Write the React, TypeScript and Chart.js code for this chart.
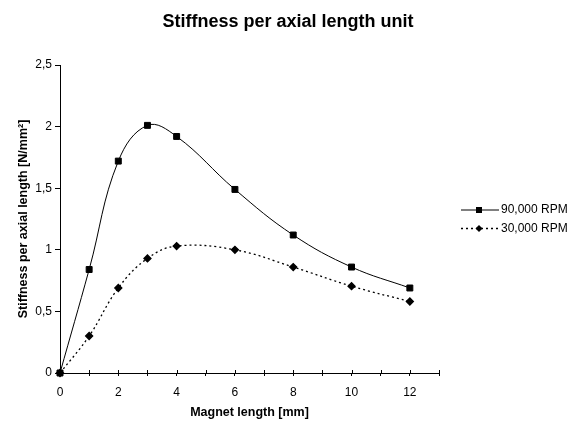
import React, { useEffect, useRef } from "react";
import { Chart, registerables } from "chart.js";

Chart.register(...registerables);

const magnetLength = [0, 1, 2, 3, 4, 6, 8, 10, 12];
const rpm90k = [0, 0.84, 1.72, 2.01, 1.92, 1.49, 1.12, 0.86, 0.69];
const rpm30k = [0, 0.3, 0.69, 0.93, 1.03, 1.0, 0.86, 0.705, 0.58];
const seriesLabels = ["90,000 RPM", "30,000 RPM"];
const titleText = "Stiffness per axial length unit";
const xTitle = "Magnet length [mm]";
const yTitle = "Stiffness per axial length [N/mm²]";

const FONT = "'Liberation Sans', Arial, sans-serif";

const crossTicks = {
  id: "crossTicks",
  afterDraw(chart: any) {
    const ctx = chart.ctx;
    const xs = chart.scales.x;
    const area = chart.chartArea;
    ctx.save();
    ctx.strokeStyle = "#000";
    ctx.lineWidth = 1;
    xs.ticks.forEach((t: any) => {
      const px = Math.round(xs.getPixelForValue(t.value)) + 0.5;
      ctx.beginPath();
      ctx.moveTo(px, area.bottom - 3);
      ctx.lineTo(px, area.bottom);
      ctx.stroke();
    });
    ctx.restore();
  },
};

const chartTitle = {
  id: "chartTitle",
  afterDraw(chart: any) {
    const ctx = chart.ctx;
    ctx.save();
    ctx.fillStyle = "#000";
    ctx.font = `bold 18px ${FONT}`;
    ctx.textAlign = "center";
    ctx.textBaseline = "middle";
    ctx.fillText(titleText, 288, 22);
    ctx.restore();
  },
};

const customLegend = {
  id: "customLegend",
  afterDraw(chart: any) {
    const ctx = chart.ctx;
    const rows = [
      { y: 210, dash: [] as number[], style: "rect", label: seriesLabels[0], w: 1 },
      { y: 228.5, dash: [2, 3], style: "rectRot", label: seriesLabels[1], w: 1.3 },
    ];
    ctx.save();
    rows.forEach((r) => {
      ctx.strokeStyle = "#000";
      ctx.lineWidth = r.w;
      ctx.setLineDash(r.dash);
      ctx.beginPath();
      ctx.moveTo(461, r.y);
      ctx.lineTo(499, r.y);
      ctx.stroke();
      ctx.setLineDash([]);
      ctx.fillStyle = "#000";
      ctx.beginPath();
      if (r.style === "rect") {
        ctx.rect(476, r.y - 3, 6, 6);
      } else {
        ctx.moveTo(479, r.y - 3.5);
        ctx.lineTo(482.5, r.y);
        ctx.lineTo(479, r.y + 3.5);
        ctx.lineTo(475.5, r.y);
        ctx.closePath();
      }
      ctx.fill();
      ctx.font = `12px ${FONT}`;
      ctx.textBaseline = "middle";
      ctx.textAlign = "left";
      ctx.fillText(r.label, 501, r.y);
    });
    ctx.restore();
  },
};

export default function App() {
  const ref = useRef<HTMLCanvasElement>(null);
  useEffect(() => {
    if (!ref.current) return;
    const chart = new Chart(ref.current, {
      type: "scatter",
      data: {
        datasets: [
          {
            label: seriesLabels[0],
            data: magnetLength.map((x, i) => ({ x, y: rpm90k[i] })),
            showLine: true,
            borderColor: "#000",
            backgroundColor: "#000",
            borderWidth: 1,
            pointStyle: "rect",
            pointRadius: 4.2,
            pointHoverRadius: 4.2,
            tension: 0.4,
            clip: false,
          } as any,
          {
            label: seriesLabels[1],
            data: magnetLength.map((x, i) => ({ x, y: rpm30k[i] })),
            showLine: true,
            borderColor: "#000",
            backgroundColor: "#000",
            borderWidth: 1.3,
            borderDash: [2, 3],
            pointStyle: "rectRot",
            pointRadius: 3.5,
            pointHoverRadius: 3.5,
            tension: 0.4,
            clip: false,
          } as any,
        ],
      },
      options: {
        responsive: false,
        animation: false,
        layout: { padding: { left: 0, right: 141, top: 65, bottom: 0 } },
        plugins: {
          legend: { display: false },
          tooltip: { enabled: false },
          title: { display: false },
        },
        scales: {
          x: {
            type: "linear",
            min: 0,
            max: 13,
            afterFit: (s: any) => {
              s.height = 50;
            },
            border: { color: "#000", width: 1 },
            grid: { drawOnChartArea: false, tickLength: 3, color: "#000" },
            ticks: {
              stepSize: 1,
              color: "#000",
              padding: 9,
              maxRotation: 0,
              autoSkip: false,
              font: { family: FONT, size: 12 },
              callback: (v: any) => (Number(v) % 2 === 0 ? String(v) : ""),
            },
            title: {
              display: true,
              text: xTitle,
              color: "#000",
              font: { family: FONT, size: 12.5, weight: "bold" },
              padding: { top: 3, bottom: 3 },
            },
          },
          y: {
            type: "linear",
            min: 0,
            max: 2.5,
            afterFit: (s: any) => {
              s.width = 60;
            },
            border: { color: "#000", width: 1 },
            grid: { drawOnChartArea: false, tickLength: 5, color: "#000" },
            ticks: {
              stepSize: 0.5,
              color: "#000",
              padding: 3,
              font: { family: FONT, size: 12 },
              callback: (v: any) => String(v).replace(".", ","),
            },
            title: {
              display: true,
              text: yTitle,
              color: "#000",
              font: { family: FONT, size: 12.5, weight: "bold" },
              padding: { top: 16, bottom: 0 },
            },
          },
        },
      },
      plugins: [crossTicks, customLegend, chartTitle],
    });
    return () => chart.destroy();
  }, []);
  return (
    <div style={{ position: "fixed", left: 0, top: 0, width: 580, height: 423, background: "#fff" }}>
      <canvas ref={ref} width={580} height={423} />
    </div>
  );
}
